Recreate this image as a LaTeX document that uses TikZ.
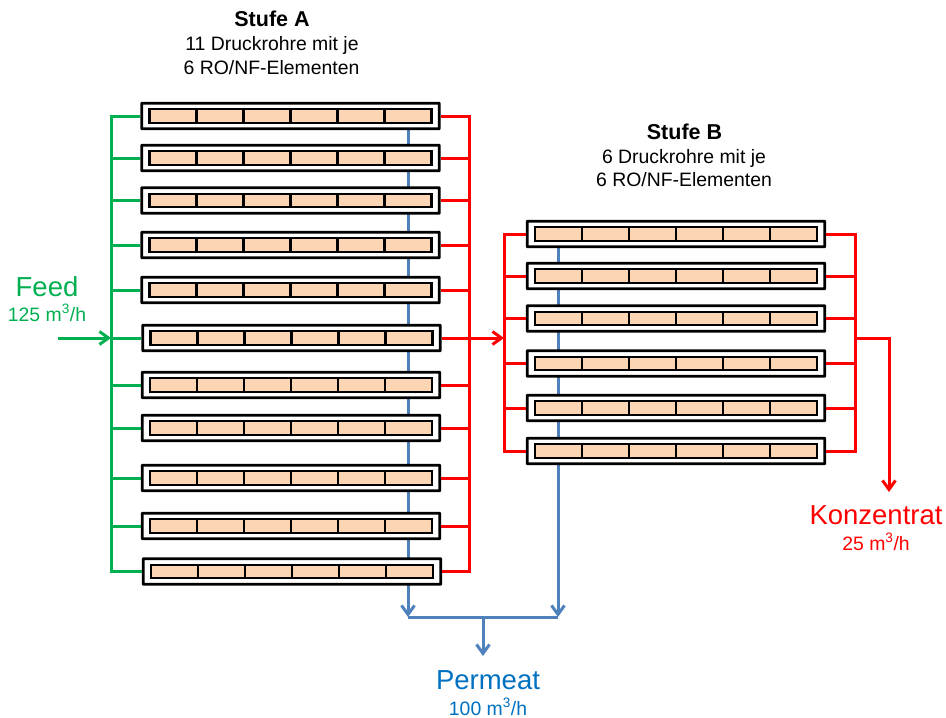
\documentclass[tikz,border=0pt]{standalone}
\usepackage{fontspec}
\setmainfont{Liberation Sans}
\usetikzlibrary{arrows.meta}
\definecolor{fgreen}{HTML}{00B050}
\definecolor{fblue}{HTML}{4F81BD}
\definecolor{tblue}{HTML}{0070C0}
\definecolor{fred}{HTML}{FF0000}
\definecolor{peach}{HTML}{FCD5B5}
\newcommand{\fs}[1]{\fontsize{#1}{#1}\selectfont}
\tikzset{
  tube/.style={draw=black,line width=2.9pt,fill=white,minimum width=297.5pt,minimum height=25.5pt,inner sep=0pt,rounded corners=0.5pt},
  elem/.style={draw=black,line width=2.4pt,fill=peach,minimum width=47pt,minimum height=13.5pt,inner sep=0pt},
  pipe/.style={line width=3pt},
  arr/.style={pipe,-{Straight Barb[length=9pt,width=13pt,line width=3pt]}},
  lbl/.style={inner sep=0pt,align=center,anchor=base},
}
\newcommand{\tuberow}[4]{% name, cx, cy, unused
  \node[tube] (#1) at (#2,#3) {};
  \foreach \k in {1,2,3,4,5,6}
    \node[elem] (#1e\k) at ({#2+(\k-3.5)*47},#3) {};
}
\begin{document}
\begin{tikzpicture}[x=1pt,y=-1pt]
\useasboundingbox (0,0) rectangle (946,718);
% junction coordinates
\coordinate (gm) at (111,338);
\coordinate (ra) at (469,338);
\coordinate (rb) at (504,338);
\coordinate (rc) at (855,338);
\coordinate (bend) at (889,338);
\coordinate (kout) at (889,492);
\coordinate (feedin) at (58,338);
\coordinate (pa) at (408,617);
\coordinate (pb) at (558,617);
\coordinate (pm) at (483,617);
\coordinate (pout) at (483,656);
% blue permeate lines behind tubes
\coordinate (pat) at (408,116);
\coordinate (pbt) at (558,234);
\draw[arr,fblue] (pat) -- (pa);
\draw[arr,fblue] (pbt) -- (pb);
% stage A
\tuberow{a1}{290.5}{116}{}
\tuberow{a2}{290.5}{158}{}
\tuberow{a3}{290.5}{200.5}{}
\tuberow{a4}{290.5}{245}{}
\tuberow{a5}{290.5}{290}{}
\tuberow{a6}{291.5}{338}{}
\tuberow{a7}{291}{385}{}
\tuberow{a8}{291}{428}{}
\tuberow{a9}{291}{478}{}
\tuberow{a10}{291}{526}{}
\tuberow{a11}{292}{571.5}{}
% stage B
\tuberow{b1}{676}{234}{}
\tuberow{b2}{676}{276}{}
\tuberow{b3}{676}{318.5}{}
\tuberow{b4}{676}{363.5}{}
\tuberow{b5}{676}{408}{}
\tuberow{b6}{676}{451}{}
% manifolds
\draw[pipe,fgreen,line cap=rect] (a1.west -| gm) -- (a11.west -| gm);
\draw[pipe,fred,line cap=rect] (a1.east -| ra) -- (a11.east -| ra);
\draw[pipe,fred,line cap=rect] (b1.west -| rb) -- (b6.west -| rb);
\draw[pipe,fred,line cap=rect] (b1.east -| rc) -- (b6.east -| rc);
% branches
\foreach \n in {a1,a2,a3,a4,a5,a6,a7,a8,a9,a10,a11} {
  \draw[pipe,fgreen] (\n.west) -- (\n.west -| gm);
  \draw[pipe,fred] (\n.east) -- (\n.east -| ra);
}
\foreach \n in {b1,b2,b3,b4,b5,b6} {
  \draw[pipe,fred] (\n.west) -- (\n.west -| rb);
  \draw[pipe,fred] (\n.east) -- (\n.east -| rc);
}
% main connectors
\draw[arr,fgreen] (feedin) -- (gm);
\draw[arr,fred] (a6.east) -- (rb);
\draw[arr,fred] (rc) -- (bend) -- (kout);
\draw[pipe,fblue] (pa) -- (pb);
\draw[arr,fblue] (pm) -- (pout);
% labels
\node[lbl] (ta) at (272,26) {\fs{21.5}\bfseries Stufe A};
\node[lbl] (ta1) at (272,50) {\fs{19.4}11 Druckrohre mit je};
\node[lbl] (ta2) at (271.5,74) {\fs{19.4}6 RO/NF-Elementen};
\node[lbl] (tb) at (684.5,139) {\fs{21.5}\bfseries Stufe B};
\node[lbl] (tb1) at (684,163) {\fs{19.4}6 Druckrohre mit je};
\node[lbl] (tb2) at (684,186) {\fs{19.4}6 RO/NF-Elementen};
\node[lbl,text=fgreen] (feed) at (47,296) {\fs{27.5}Feed};
\node[lbl,text=fgreen] (feedq) at (47,321) {\fs{19.4}125 m\textsuperscript{3}/h};
\node[lbl,text=tblue] (perm) at (488,689) {\fs{27.5}Permeat};
\node[lbl,text=tblue] (permq) at (488,715) {\fs{19.4}100 m\textsuperscript{3}/h};
\node[lbl,text=fred] (konz) at (876,524) {\fs{27.5}Konzentrat};
\node[lbl,text=fred] (konzq) at (876,550) {\fs{19.4}25 m\textsuperscript{3}/h};
\end{tikzpicture}
\end{document}
